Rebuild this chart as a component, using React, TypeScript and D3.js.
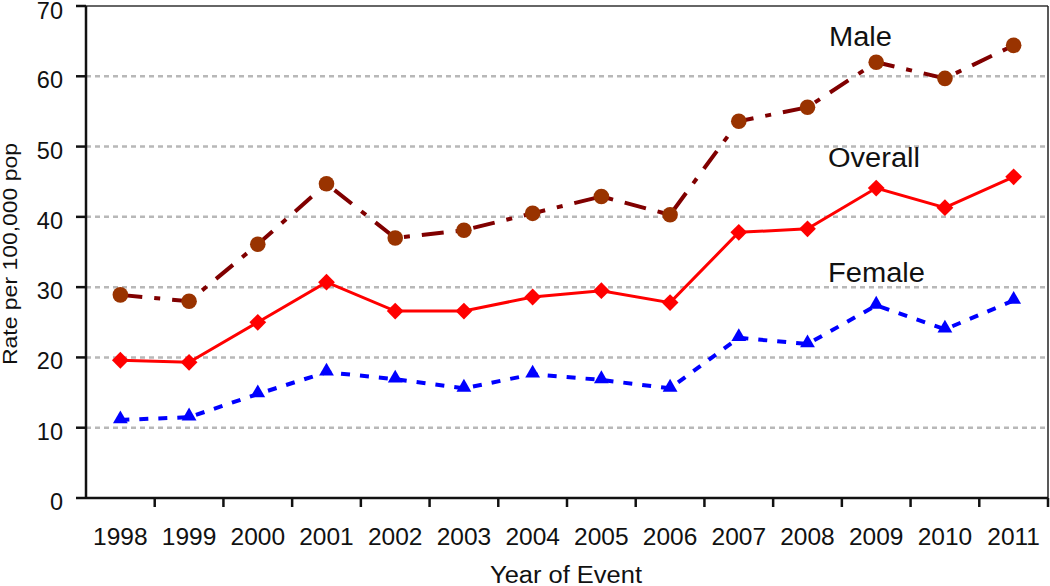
import React from "react";
import * as d3 from "d3";

const years = ["1998","1999","2000","2001","2002","2003","2004","2005","2006","2007","2008","2009","2010","2011"];
const maleValues = [28.9, 28.0, 36.1, 44.7, 37.0, 38.1, 40.5, 42.9, 40.3, 53.6, 55.6, 62.0, 59.7, 64.4];
const overallValues = [19.6, 19.3, 25.0, 30.7, 26.6, 26.6, 28.6, 29.5, 27.8, 37.8, 38.3, 44.1, 41.3, 45.7];
const femaleValues = [11.1, 11.5, 14.8, 17.9, 16.9, 15.6, 17.6, 16.8, 15.6, 22.8, 21.9, 27.4, 24.0, 28.1];
const yTicks = [0, 10, 20, 30, 40, 50, 60, 70];

const W = 1050, H = 586;
const left = 86, right = 1048, top = 6, bottom = 498;
const font = "Liberation Sans, Arial, sans-serif";

export default function App() {
  const x = d3.scaleBand().domain(years).range([left, right]);
  const y = d3.scaleLinear().domain([0, 70]).range([bottom, top]);
  const cx = (yr: string) => (x(yr) as number) + x.bandwidth() / 2;
  const line = d3.line<number>().x((_, i) => cx(years[i])).y(v => y(v));

  const diamond = d3.symbol().type(d3.symbolDiamond2).size(180)();
  const tri = d3.symbol().type(d3.symbolTriangle).size(95)();

  return (
    <svg width={W} height={H} style={{ position: "absolute", left: 0, top: 0, background: "#fff" }}>
      <rect x={0} y={0} width={W} height={H} fill="#fff" />
      {yTicks.filter(t => t > 0 && t < 70).map(t => (
        <line key={t} x1={left} x2={right} y1={y(t)} y2={y(t)} stroke="#b8b8b8" strokeWidth={2.5} strokeDasharray="5,4" />
      ))}
      {/* frame */}
      <line x1={left} x2={right} y1={top} y2={top} stroke="#333" strokeWidth={1.5} />
      <line x1={right} x2={right} y1={top} y2={bottom} stroke="#222" strokeWidth={1.5} />
      <line x1={left} x2={left} y1={top} y2={bottom} stroke="#111" strokeWidth={2.5} />
      <line x1={left} x2={right} y1={bottom} y2={bottom} stroke="#111" strokeWidth={2.5} />
      {yTicks.map(t => (
        <g key={t}>
          <line x1={left - 10} x2={left} y1={y(t)} y2={y(t)} stroke="#111" strokeWidth={2.5} />
          <text x={63} y={y(t) + (t === 70 ? 13 : 12)} textAnchor="end" fontFamily={font} fontSize={23.5} fill="#111">{t}</text>
        </g>
      ))}
      {years.map((yr, i) => (
        <g key={yr}>
          {i > 0 && <line x1={x(yr)} x2={x(yr)} y1={bottom} y2={bottom + 9} stroke="#111" strokeWidth={2.5} />}
          <text x={cx(yr)} y={545} textAnchor="middle" fontFamily={font} fontSize={24.5} fill="#111">{yr}</text>
        </g>
      ))}
      <line x1={right} x2={right} y1={bottom} y2={bottom + 9} stroke="#111" strokeWidth={2.5} />
      <text x={566} y={583} textAnchor="middle" fontFamily={font} fontSize={23} fill="#111" textLength={152} lengthAdjust="spacingAndGlyphs">Year of Event</text>
      <text transform={`translate(17, 254) rotate(-90)`} textAnchor="middle" fontFamily={font} fontSize={20} fill="#111" textLength={222} lengthAdjust="spacingAndGlyphs">Rate per 100,000 pop</text>

      {/* Female */}
      <path d={line(femaleValues) as string} fill="none" stroke="#0000ff" strokeWidth={4} strokeDasharray="9,10" />
      {femaleValues.map((v, i) => (
        <path key={i} d={tri as string} transform={`translate(${cx(years[i])},${y(v) - 1})`} fill="#0000ff" />
      ))}
      {/* Overall */}
      <path d={line(overallValues) as string} fill="none" stroke="#ff0000" strokeWidth={3} />
      {overallValues.map((v, i) => (
        <path key={i} d={diamond as string} transform={`translate(${cx(years[i])},${y(v)})`} fill="#ff0000" />
      ))}
      {/* Male */}
      <path d={line(maleValues) as string} fill="none" stroke="#800000" strokeWidth={4} strokeDasharray="22,12,6,12" />
      {maleValues.map((v, i) => (
        <circle key={i} cx={cx(years[i])} cy={y(v)} r={7.8} fill="#993300" />
      ))}

      <text x={829} y={46} fontFamily={font} fontSize={27} fill="#111" textLength={63} lengthAdjust="spacingAndGlyphs">Male</text>
      <text x={828} y={167} fontFamily={font} fontSize={27} fill="#111" textLength={92} lengthAdjust="spacingAndGlyphs">Overall</text>
      <text x={828} y={282} fontFamily={font} fontSize={27} fill="#111" textLength={97} lengthAdjust="spacingAndGlyphs">Female</text>
    </svg>
  );
}
